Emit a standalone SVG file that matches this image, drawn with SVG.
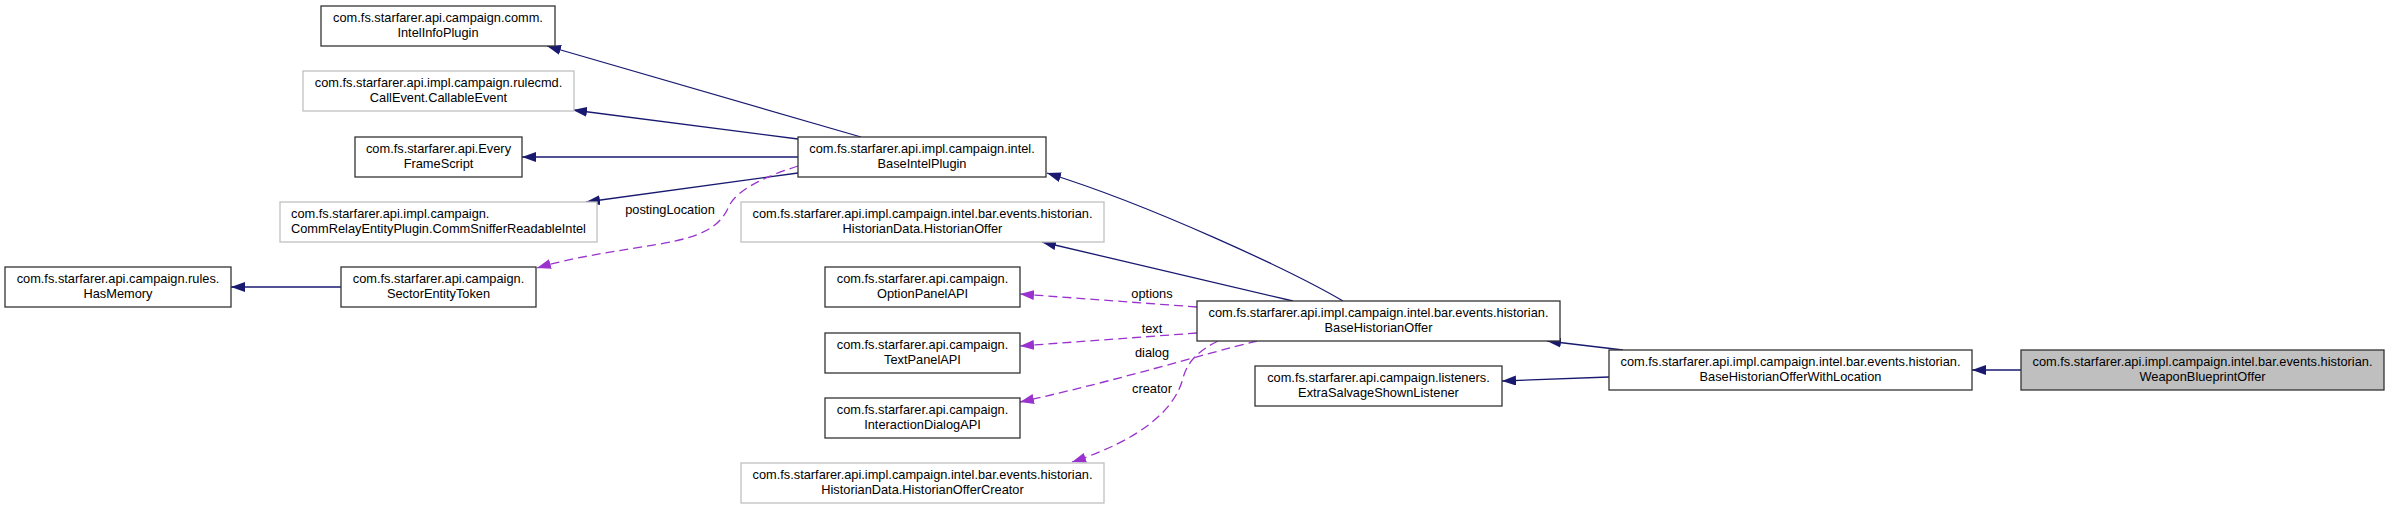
<svg xmlns="http://www.w3.org/2000/svg" width="2389" height="509" viewBox="0 0 2389 509">
<style>
text{font-family:"Liberation Sans",Arial,sans-serif;font-size:12.8px;fill:#000;text-anchor:middle}
.l{text-anchor:start}
rect{stroke-width:1.3}
.n rect{fill:#fff;stroke:#333}
.g rect{fill:#fff;stroke:#c0c0c0}
.cur rect{fill:#bfbfbf;stroke:#333}
.e{fill:none;stroke:#191970;stroke-width:1.3}
.d{fill:none;stroke:#9a32cd;stroke-width:1.3;stroke-dasharray:9,5}
</style>
<defs>
<marker id="an" viewBox="0 0 14 10" refX="14" refY="5" markerWidth="14" markerHeight="10" markerUnits="userSpaceOnUse" orient="auto"><path d="M0,0L14,5L0,10z" fill="#191970"/></marker>
<marker id="ap" viewBox="0 0 14 10" refX="14" refY="5" markerWidth="14" markerHeight="10" markerUnits="userSpaceOnUse" orient="auto"><path d="M0,0L14,5L0,10z" fill="#9a32cd"/></marker>
</defs>
<g id="connectors">
<path class="e" marker-end="url(#an)" d="M861,137L547,46"/>
<path class="e" marker-end="url(#an)" d="M798,139L573,110"/>
<path class="e" marker-end="url(#an)" d="M798,157L522,157"/>
<path class="e" marker-end="url(#an)" d="M798,173L586,202"/>
<path class="e" marker-end="url(#an)" d="M341,287L231,287"/>
<path class="d" marker-end="url(#ap)" d="M798,166C770,175 738,188 729,206C720,228 700,237 660,244C610,252 570,258 537,268"/>
<text x="670" y="214">postingLocation</text>
<path class="e" marker-end="url(#an)" d="M1343,301C1290,270 1150,205 1047,173"/>
<path class="e" marker-end="url(#an)" d="M1293,301L1042,242"/>
<path class="d" marker-end="url(#ap)" d="M1197,307L1020,294"/>
<text x="1152" y="298">options</text>
<path class="d" marker-end="url(#ap)" d="M1197,333L1020,346"/>
<text x="1152" y="333">text</text>
<path class="d" marker-end="url(#ap)" d="M1257,341C1200,355 1120,380 1020,402"/>
<text x="1152" y="357">dialog</text>
<path class="d" marker-end="url(#ap)" d="M1218,341C1200,350 1188,360 1183,378C1175,410 1140,440 1072,462"/>
<text x="1152" y="393">creator</text>
<path class="e" marker-end="url(#an)" d="M1623,350L1547,341"/>
<path class="e" marker-end="url(#an)" d="M1609,377L1502,381"/>
<path class="e" marker-end="url(#an)" d="M2021,370L1972,370"/>
</g>
<g id="IntelInfoPlugin" class="n"><rect x="321" y="6" width="234" height="40"/><text x="438" y="22">com.fs.starfarer.api.campaign.comm.</text><text x="438" y="36.5">IntelInfoPlugin</text></g>
<g id="CallableEvent" class="g"><rect x="303" y="71" width="271" height="40"/><text x="438.5" y="87">com.fs.starfarer.api.impl.campaign.rulecmd.</text><text x="438.5" y="101.5">CallEvent.CallableEvent</text></g>
<g id="EveryFrameScript" class="n"><rect x="355" y="137" width="167" height="40"/><text x="438.5" y="153">com.fs.starfarer.api.Every</text><text x="438.5" y="167.5">FrameScript</text></g>
<g id="CommSnifferReadableIntel" class="g"><rect x="280" y="202" width="317" height="40"/><text class="l" x="291" y="218">com.fs.starfarer.api.impl.campaign.</text><text class="l" x="291" y="232.5">CommRelayEntityPlugin.CommSnifferReadableIntel</text></g>
<g id="HasMemory" class="n"><rect x="5" y="267" width="226" height="40"/><text x="118" y="283">com.fs.starfarer.api.campaign.rules.</text><text x="118" y="297.5">HasMemory</text></g>
<g id="SectorEntityToken" class="n"><rect x="341" y="267" width="195" height="40"/><text x="438.5" y="283">com.fs.starfarer.api.campaign.</text><text x="438.5" y="297.5">SectorEntityToken</text></g>
<g id="BaseIntelPlugin" class="n"><rect x="798" y="137" width="248" height="40"/><text x="922" y="153">com.fs.starfarer.api.impl.campaign.intel.</text><text x="922" y="167.5">BaseIntelPlugin</text></g>
<g id="HistorianOffer" class="g"><rect x="741" y="202" width="363" height="40"/><text x="922.5" y="218">com.fs.starfarer.api.impl.campaign.intel.bar.events.historian.</text><text x="922.5" y="232.5">HistorianData.HistorianOffer</text></g>
<g id="OptionPanelAPI" class="n"><rect x="825" y="267" width="195" height="40"/><text x="922.5" y="283">com.fs.starfarer.api.campaign.</text><text x="922.5" y="297.5">OptionPanelAPI</text></g>
<g id="TextPanelAPI" class="n"><rect x="825" y="333" width="195" height="40"/><text x="922.5" y="349">com.fs.starfarer.api.campaign.</text><text x="922.5" y="363.5">TextPanelAPI</text></g>
<g id="InteractionDialogAPI" class="n"><rect x="825" y="398" width="195" height="40"/><text x="922.5" y="414">com.fs.starfarer.api.campaign.</text><text x="922.5" y="428.5">InteractionDialogAPI</text></g>
<g id="HistorianOfferCreator" class="g"><rect x="741" y="463" width="363" height="40"/><text x="922.5" y="479">com.fs.starfarer.api.impl.campaign.intel.bar.events.historian.</text><text x="922.5" y="493.5">HistorianData.HistorianOfferCreator</text></g>
<g id="BaseHistorianOffer" class="n"><rect x="1197" y="301" width="363" height="40"/><text x="1378.5" y="317">com.fs.starfarer.api.impl.campaign.intel.bar.events.historian.</text><text x="1378.5" y="331.5">BaseHistorianOffer</text></g>
<g id="ExtraSalvageShownListener" class="n"><rect x="1255" y="366" width="247" height="40"/><text x="1378.5" y="382">com.fs.starfarer.api.campaign.listeners.</text><text x="1378.5" y="396.5">ExtraSalvageShownListener</text></g>
<g id="BaseHistorianOfferWithLocation" class="n"><rect x="1609" y="350" width="363" height="40"/><text x="1790.5" y="366">com.fs.starfarer.api.impl.campaign.intel.bar.events.historian.</text><text x="1790.5" y="380.5">BaseHistorianOfferWithLocation</text></g>
<g id="WeaponBlueprintOffer" class="cur"><rect x="2021" y="350" width="363" height="40"/><text x="2202.5" y="366">com.fs.starfarer.api.impl.campaign.intel.bar.events.historian.</text><text x="2202.5" y="380.5">WeaponBlueprintOffer</text></g>
</svg>
